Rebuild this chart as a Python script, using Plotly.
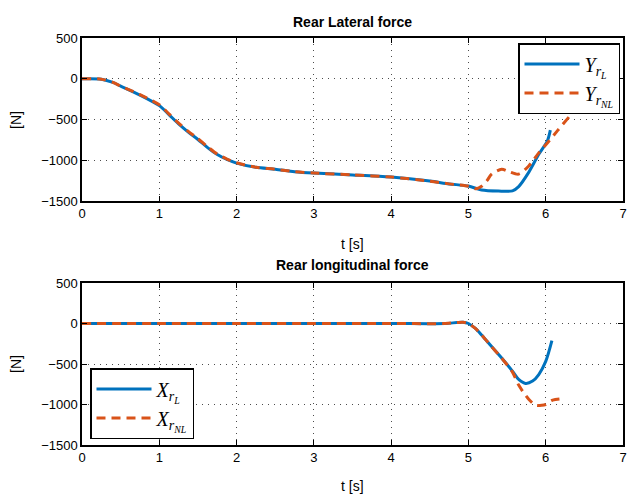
import plotly.graph_objects as go

# ---- data ----
t_lat_lin = [0, 0.25, 0.4, 0.5, 0.75, 1, 1.125, 1.25, 1.375, 1.5, 1.625, 1.75, 1.875, 2, 2.25, 2.5, 2.75, 3, 3.5, 4, 4.5, 4.75, 5, 5.17, 5.39, 5.57, 5.65, 5.78, 5.91, 6.02, 6.06]
y_lat_lin = [0, -5, -45, -90, -200, -330, -440, -555, -655, -745, -845, -930, -990, -1035, -1087, -1110, -1140, -1157, -1180, -1207, -1256, -1290, -1317, -1365, -1378, -1375, -1323, -1149, -927, -766, -630]

t_lat_nl = [0, 0.25, 0.4, 0.5, 0.75, 1, 1.125, 1.25, 1.375, 1.5, 1.625, 1.75, 1.875, 2, 2.25, 2.5, 2.75, 3, 3.5, 4, 4.5, 4.75, 5, 5.09, 5.17, 5.24, 5.3, 5.43, 5.52, 5.65, 5.78, 5.91, 6.04, 6.15, 6.3]
y_lat_nl = [0, -5, -45, -90, -195, -320, -430, -545, -645, -735, -835, -925, -985, -1030, -1087, -1110, -1140, -1157, -1180, -1207, -1256, -1290, -1320, -1350, -1320, -1250, -1170, -1110, -1137, -1170, -1070, -910, -766, -640, -470]

t_lon_lin = [0, 1, 2, 3, 4, 4.7, 4.85, 4.93, 5, 5.09, 5.17, 5.3, 5.43, 5.57, 5.65, 5.74, 5.83, 5.91, 6.0, 6.08]
y_lon_lin = [0, 0, 0, 0, 0, 0, 12, 15, 0, -61, -142, -285, -427, -589, -691, -740, -711, -630, -467, -210]

t_lon_nl = [0, 1, 2, 3, 4, 4.7, 4.85, 4.93, 5, 5.09, 5.17, 5.3, 5.43, 5.57, 5.65, 5.78, 5.87, 5.95, 6.0, 6.09, 6.24]
y_lon_nl = [0, 0, 0, 0, 0, 0, 12, 15, 0, -61, -142, -285, -427, -600, -760, -935, -1008, -1010, -1000, -947, -927]

x_ticks = [0, 1, 2, 3, 4, 5, 6, 7]
y_ticks = [-1500, -1000, -500, 0, 500]

titles = ["Rear Lateral force", "Rear longitudinal force"]
x_title = "t [s]"
y_title = "[N]"

BLUE = "#0072BD"
ORANGE = "#D95319"

fig = go.Figure()
fig.add_trace(go.Scatter(x=t_lat_lin, y=y_lat_lin, mode="lines", line=dict(color=BLUE, width=3, shape="spline", smoothing=0.8),
                         name="<i>Y</i><sub><i>r</i><sub><i>L</i></sub></sub>", xaxis="x", yaxis="y", legend="legend"))
fig.add_trace(go.Scatter(x=t_lat_nl, y=y_lat_nl, mode="lines", line=dict(color=ORANGE, width=3, dash="9px,6px", shape="spline", smoothing=0.8),
                         name="<i>Y</i><sub><i>r</i><sub><i>NL</i></sub></sub>", xaxis="x", yaxis="y", legend="legend"))
fig.add_trace(go.Scatter(x=t_lon_lin, y=y_lon_lin, mode="lines", line=dict(color=BLUE, width=3, shape="spline", smoothing=0.8),
                         name="<i>X</i><sub><i>r</i><sub><i>L</i></sub></sub>", xaxis="x2", yaxis="y2", legend="legend2"))
fig.add_trace(go.Scatter(x=t_lon_nl, y=y_lon_nl, mode="lines", line=dict(color=ORANGE, width=3, dash="9px,6px", shape="spline", smoothing=0.8),
                         name="<i>X</i><sub><i>r</i><sub><i>NL</i></sub></sub>", xaxis="x2", yaxis="y2", legend="legend2"))

axis_common = dict(showline=True, linecolor="black", linewidth=1.5, mirror="ticks", ticks="inside", ticklen=5,
                   tickcolor="black", showgrid=True, gridcolor="rgba(0,0,0,0.7)", griddash="1px,5px", gridwidth=1,
                   zeroline=False, automargin=False,
                   tickfont=dict(family="Liberation Sans, Arial", size=13, color="black"))

L, R, T, B = 82, 4, 38, 50
W, H = 627, 495
plot_h = H - T - B

def py(pix):
    return (H - B - pix) / plot_h

fig.update_layout(
    width=W, height=H,
    margin=dict(l=L, r=R, t=T, b=B),
    paper_bgcolor="white", plot_bgcolor="white",
    font=dict(family="Liberation Sans, Arial", color="black"),
    xaxis=dict(domain=[0, 1], anchor="y", range=[0, 7], tickvals=x_ticks, **axis_common),
    yaxis=dict(domain=[py(201), 1], anchor="x", range=[-1500, 500], tickvals=y_ticks, **axis_common),
    xaxis2=dict(domain=[0, 1], anchor="y2", range=[0, 7], tickvals=x_ticks, **axis_common),
    yaxis2=dict(domain=[0, py(283)], anchor="x2", range=[-1500, 500], tickvals=y_ticks, **axis_common),
    legend=dict(x=(620 - L) / (W - L - R), xanchor="right", y=py(43), yanchor="top", bordercolor="black", borderwidth=1.5,
                bgcolor="white", font=dict(family="Liberation Serif", size=20), tracegroupgap=0, itemwidth=55),
    legend2=dict(x=(90 - L) / (W - L - R), xanchor="left", y=py(439), yanchor="bottom", bordercolor="black", borderwidth=1.5,
                 bgcolor="white", font=dict(family="Liberation Serif", size=20), tracegroupgap=0, itemwidth=55),
)

ann = []
for txt, ypix in [(titles[0], 22), (titles[1], 265)]:
    ann.append(dict(text="<b>" + txt + "</b>", x=0.5, xref="paper", y=py(ypix), yref="paper",
                    yanchor="middle", showarrow=False, font=dict(size=14)))
for ypix in [244, 486]:
    ann.append(dict(text=x_title, x=0.5, xref="paper", y=py(ypix), yref="paper",
                    yanchor="middle", showarrow=False, font=dict(size=14)))
for ypix in [120, 364]:
    ann.append(dict(text=y_title, x=(16 - L) / (W - L - R), xref="paper", y=py(ypix), yref="paper",
                    xanchor="center", yanchor="middle", textangle=-90, showarrow=False, font=dict(size=14)))
fig.update_layout(annotations=ann)

fig.write_html("out.html", config={"displayModeBar": False},
               post_script="document.body.style.margin='0px';document.body.style.overflow='hidden';")
